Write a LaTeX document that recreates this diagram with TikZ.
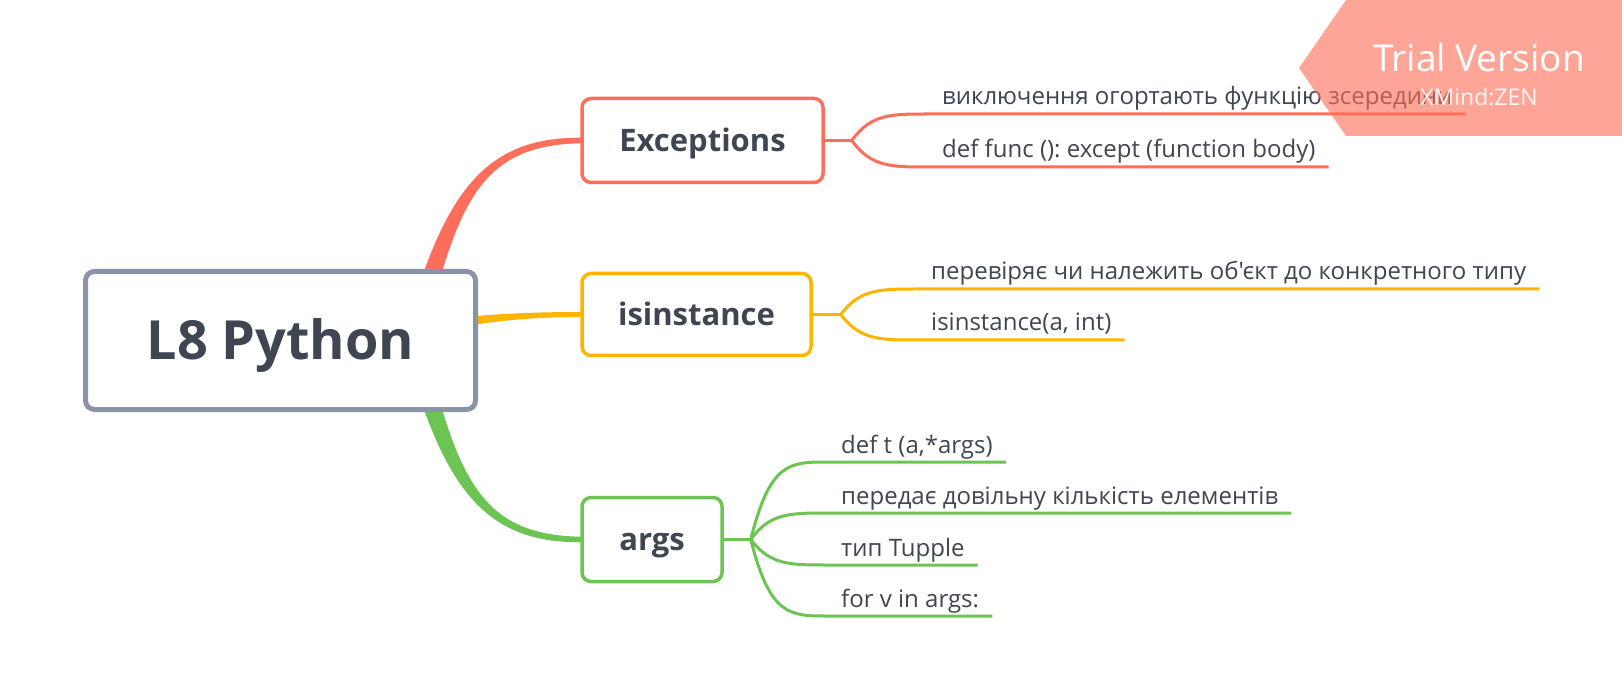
\documentclass[tikz,border=0pt]{standalone}
\usepackage{fontspec}
\setmainfont{Open Sans}[Ligatures=TeXOff]
\usetikzlibrary{calc}
\definecolor{cred}{HTML}{FF6E5A}
\definecolor{corange}{HTML}{FFB400}
\definecolor{cgreen}{HTML}{6CC552}
\definecolor{cgray}{HTML}{8A94A6}
\definecolor{ctext}{HTML}{3F4651}
\pgfdeclarelayer{bot}
\pgfdeclarelayer{bg}
\pgfsetlayers{bot,bg,main}
\newcommand\subbr[3]{%
  \draw[subline,#1] (#2) let \p1=(#2), \p2=($(#3.base west)+(0,9)$), \p3=($(#3.base east)+(0,9)$) in
    .. controls ({\x1+0.25*(\x2-\x1)},\y2) and ({\x1+0.5*(\x2-\x1)},\y2) .. (\p2) -- (\p3);}
\begin{document}
\frenchspacing
\begin{tikzpicture}[x=1pt,y=-1pt,
  topic/.style={draw, line width=3.5pt, rounded corners=9pt, fill=white, text=ctext,
    font=\fontsize{31}{36}\selectfont\bfseries, inner sep=0pt, text height=22pt, text depth=0pt},
  subt/.style={anchor=base west, inner xsep=13pt, inner ysep=0pt, text=ctext,
    font=\fontsize{24}{28}\selectfont},
  subline/.style={line width=3pt}]
\useasboundingbox (0,0) rectangle (1622,700);
\begin{pgfonlayer}{bot}
\fill[white] (0,0) rectangle (1622,700);
\end{pgfonlayer}
% nodes
\node[topic, draw=cgray, line width=5pt, minimum width=390pt, minimum height=138pt,
  font=\fontsize{54}{62}\selectfont\bfseries, text height=38.5pt] (root) at (280.5,340.5) {L8 Python};
\node[topic, draw=cred, minimum width=241pt, minimum height=84pt] (exc) at (702.5,140.5) {Exceptions};
\node[topic, draw=corange, minimum width=229pt, minimum height=82pt] (iso) at (696.5,314.5) {isinstance};
\node[topic, draw=cgreen, minimum width=140pt, minimum height=84pt] (args) at (652,539.5) {args};
% main branches (behind boxes)
\begin{pgfonlayer}{bg}
\fill[cred] ($(root.center)+(122.5,-3)$) .. controls ($(root.center)+(162,-142.5)$) and ($(exc.west)+(-100,-4)$) .. ($(exc.west)+(2,-2.75)$)
  -- ($(exc.west)+(2,2.75)$) .. controls ($(exc.west)+(-100,4)$) and ($(root.center)+(177,-138.5)$) .. ($(root.center)+(142.5,3)$) -- cycle;
\fill[cgreen] ($(root.center)+(122.5,3)$) .. controls ($(root.center)+(162,142.5)$) and ($(args.west)+(-100,4)$) .. ($(args.west)+(2,2.75)$)
  -- ($(args.west)+(2,-2.75)$) .. controls ($(args.west)+(-100,-4)$) and ($(root.center)+(177,138.5)$) .. ($(root.center)+(142.5,-3)$) -- cycle;
\fill[corange] ($(root.center)+(160,-21)$) .. controls ($(root.center)+(210,-26.5)$) and ($(iso.west)+(-50,-2.5)$) .. ($(iso.west)+(2,-2.5)$)
  -- ($(iso.west)+(2,2.5)$) .. controls ($(iso.west)+(-50,2.5)$) and ($(root.center)+(210,-19.5)$) .. ($(root.center)+(160,-10)$) -- cycle;
\end{pgfonlayer}
% subtopics
\node[subt] (exc1) at (929,105) {виключення огортають функцію зсередини};
\node[subt] (exc2) at (929,158) {def func (): except (function body)};
\node[subt] (iso1) at (918,280) {перевіряє чи належить об'єкт до конкретного типу};
\node[subt] (iso2) at (918,331) {isinstance(a, int)};
\node[subt] (arg1) at (828,453) {def t (a,*args)};
\node[subt] (arg2) at (828,504) {передає довільну кількість елементів};
\node[subt] (arg3) at (828,556) {тип Tupple};
\node[subt] (arg4) at (828,607) {for v in args:};
% forks
\coordinate (fexc) at ($(exc.east)+(27,0)$);
\coordinate (fiso) at ($(iso.east)+(28,0)$);
\coordinate (fargs) at ($(args.east)+(27,0)$);
\draw[subline,cred] (exc.east) -- (fexc);
\draw[subline,corange] (iso.east) -- (fiso);
\draw[subline,cgreen] (args.east) -- (fargs);
\subbr{cred}{fexc}{exc1}
\subbr{cred}{fexc}{exc2}
\subbr{corange}{fiso}{iso1}
\subbr{corange}{fiso}{iso2}
\subbr{cgreen}{fargs}{arg1}
\subbr{cgreen}{fargs}{arg2}
\subbr{cgreen}{fargs}{arg3}
\subbr{cgreen}{fargs}{arg4}
% watermark
\fill[cred, fill opacity=0.62] (1346,0) -- (1622,0) -- (1622,136) -- (1346,136) -- (1299,68) -- cycle;
\node[text=white, font=\fontsize{37}{42}\selectfont] (wm1) at (1479,58) {Trial Version};
\node[text=white, text opacity=0.9, font=\fontsize{23}{26}\selectfont] (wm2) at (1479,97) {XMind:ZEN};
\end{tikzpicture}
\end{document}
